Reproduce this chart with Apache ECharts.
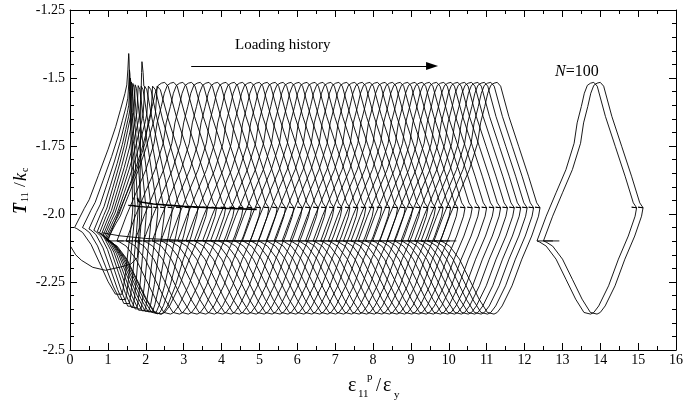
<!DOCTYPE html>
<html><head><meta charset="utf-8">
<script src="https://cdn.jsdelivr.net/npm/echarts@6/dist/echarts.min.js"></script>
<style>html,body{margin:0;padding:0;background:#fff}#c{width:686px;height:408px}</style>
</head><body><div id="c"></div>
<script>
// ---------- data ----------
const xTickLabels = ['0','1','2','3','4','5','6','7','8','9','10','11','12','13','14','15','16'];
const yTickLabels = ['-2.5','-2.25','-2.0','-1.75','-1.5','-1.25'];

// shape of one stabilised loop (x relative to its left vertex, y absolute)
const loopDx = [0.42,0,0.243,0.503,0.764,0.98,1.06,1.17,1.25,1.33,1.415,1.50,1.59,1.806,2.066,2.326,2.543,2.63,2.50,2.63,2.59,2.41,2.15,1.89,1.63,1.50,1.415,1.24,1.02,0.764,0.503,0.243,0.07,0];
const loopY  = [-2.099,-2.099,-2.008,-1.922,-1.837,-1.74,-1.665,-1.605,-1.556,-1.527,-1.519,-1.516,-1.53,-1.641,-1.751,-1.861,-1.959,-1.977,-1.975,-1.977,-2.008,-2.081,-2.166,-2.264,-2.338,-2.362,-2.368,-2.362,-2.313,-2.24,-2.166,-2.118,-2.103,-2.099];

// left-vertex positions of the drawn stabilised cycles
const steadyShift = [1.00,1.24,1.48,1.71,1.94,2.17,2.40,2.62,2.84,3.06,3.28,3.50,3.71,3.92,4.13,4.34,4.55,4.76,4.97,5.18,5.39,5.60,5.81,6.02,6.22,6.42,6.62,6.82,7.02,7.22,7.42,7.61,7.80,7.99,8.18,8.37,8.56,8.74,8.92,9.10,9.27,9.44,9.61,9.78];
const finalShift = [12.33,12.50];   // cycles 99 and 100

// early cycles: vertices (left, top, right, bottom)
const earlyLx = [0.12,0.33,0.50,0.63,0.72,0.78,0.83,0.87,0.90,0.93,0.95,0.97];
const earlyLy = [-2.05,-2.05,-2.055,-2.06,-2.065,-2.07,-2.075,-2.08,-2.085,-2.09,-2.095,-2.098];
const earlyTx = [1.55,1.57,1.59,1.62,1.66,1.72,1.80,1.88,1.97,2.07,2.18,2.30];
const earlyTy = [-1.41,-1.47,-1.50,-1.515,-1.52,-1.525,-1.528,-1.53,-1.53,-1.53,-1.53,-1.53];
const earlyRx = [1.66,1.72,1.80,1.90,2.02,2.16,2.32,2.50,2.70,2.92,3.15,3.38];
const earlyRy = [-1.97,-1.97,-1.972,-1.974,-1.975,-1.976,-1.977,-1.977,-1.977,-1.977,-1.977,-1.977];
const earlyBx = [1.35,1.45,1.55,1.65,1.75,1.85,1.95,2.05,2.14,2.23,2.32,2.40];
const earlyBy = [-2.30,-2.32,-2.335,-2.345,-2.35,-2.355,-2.36,-2.362,-2.364,-2.366,-2.367,-2.368];
// branch shapes of the early cycles (fraction of the way between vertices)
const loadU   = [0,0.18,0.27,0.44,0.62,0.76,0.85,0.93,0.965,0.985,1];
const loadV   = [0,0.11,0.16,0.30,0.45,0.58,0.68,0.77,0.82,0.91,1];
const unloadU = [0,0.08,0.27,0.50,0.73,0.92,1];
const unloadV = [0,0.03,0.27,0.51,0.75,0.96,1];
const dropU   = [0,0.033,0.181,0.395,0.609,0.823,0.93,1];
const dropV   = [0,0.079,0.266,0.483,0.734,0.923,0.985,1];
const backU   = [0,0.124,0.279,0.46,0.645,0.828,0.951,1];
const backV   = [0,0.022,0.204,0.476,0.751,0.929,0.985,1];

// first monotonic loading path and the transition curves
const initialX = [0.02,0.15,0.30,0.60,0.94,1.33,1.60,1.78,1.83,1.85,1.86,1.87,1.89,1.90,1.93,1.95];
const initialY = [-2.12,-2.15,-2.17,-2.196,-2.207,-2.195,-2.185,-2.16,-2.05,-1.90,-1.75,-1.60,-1.48,-1.44,-1.48,-1.53];
const transX = [0.85,1.3,2.0,3.0,4.9];
const transY = [-2.069,-2.08,-2.09,-2.097,-2.1];
const upperX = [1.78,1.82,2.2,3.0,4.0,4.93];
const upperY = [-1.94,-1.955,-1.963,-1.972,-1.979,-1.983];

const arrowX = [3.2, 9.56];
const arrowY = -1.456;

// ---------- build series ----------
const FONT = "'Liberation Serif','Times New Roman',serif";
function lineSeries(pts, w){
  return {type:'line', data:pts, showSymbol:false, symbol:'none', silent:true, animation:false,
    lineStyle:{color:'#000', width:w||0.9}, xAxisIndex:0, yAxisIndex:0, clip:true};
}
function shiftedLoop(s){
  return loopDx.map((d,i)=>[s+d, loopY[i]]);
}
function branch(pts, x0,y0,x1,y1,U,V){
  for(let i=1;i<U.length;i++) pts.push([x0+(x1-x0)*U[i], y0+(y1-y0)*V[i]]);
}
function earlyLoop(k){
  const L=[earlyLx[k],earlyLy[k]], T=[earlyTx[k],earlyTy[k]], R=[earlyRx[k],earlyRy[k]], B=[earlyBx[k],earlyBy[k]];
  const pts=[L.slice()];
  branch(pts,L[0],L[1],T[0],T[1],loadU,loadV);
  branch(pts,T[0],T[1],R[0],R[1],unloadU,unloadV);
  pts.push([R[0]-0.12,R[1]+0.002]); pts.push(R.slice());
  branch(pts,R[0],R[1],B[0],B[1],dropU,dropV);
  branch(pts,B[0],B[1],L[0],L[1],backU,backV);
  return pts;
}
const series=[];
series.push(lineSeries(initialX.map((x,i)=>[x,initialY[i]])));
series.push(lineSeries(transX.map((x,i)=>[x,transY[i]])));
series.push(lineSeries(upperX.map((x,i)=>[x,upperY[i]]), 1.6));
earlyLx.forEach((_,k)=>series.push(lineSeries(earlyLoop(k))));
steadyShift.forEach(s=>series.push(lineSeries(shiftedLoop(s))));
finalShift.forEach(s=>series.push(lineSeries(shiftedLoop(s))));
// arrow "Loading history"
series.push({type:'line', data:[], silent:true, animation:false,
  markLine:{silent:true, animation:false, symbol:['none','triangle'], symbolSize:[8,12], label:{show:false},
    lineStyle:{color:'#000', width:1, type:'solid'},
    data:[[{coord:[arrowX[0],arrowY]},{coord:[arrowX[1],arrowY]}]]}});

const axisCommon = {
  min:0, max:16, interval:1, type:'value',
  axisLine:{show:true, onZero:false, lineStyle:{color:'#000', width:1}},
  axisTick:{show:true, inside:true, length:7, lineStyle:{color:'#000'}},
  minorTick:{show:true, splitNumber:2, length:4, lineStyle:{color:'#000'}},
  splitLine:{show:false}
};
const yCommon = {
  min:-2.5, max:-1.25, interval:0.25, type:'value',
  axisLine:{show:true, onZero:false, lineStyle:{color:'#000', width:1}},
  axisTick:{show:true, inside:true, length:7, lineStyle:{color:'#000'}},
  minorTick:{show:true, splitNumber:5, length:4, lineStyle:{color:'#000'}},
  splitLine:{show:false}
};

const option = {
  animation:false,
  backgroundColor:'#fff',
  grid:{left:70, right:2, top:10, bottom:58, containLabel:false},
  xAxis:[
    Object.assign({}, axisCommon, {position:'bottom',
      axisLabel:{show:true, margin:3, color:'#000', fontSize:14, fontFamily:FONT,
        formatter:v=>xTickLabels[Math.round(v)]}}),
    Object.assign({}, axisCommon, {position:'top', axisLabel:{show:false}})
  ],
  yAxis:[
    Object.assign({}, yCommon, {position:'left',
      axisLabel:{show:true, margin:5, color:'#000', fontSize:14, fontFamily:FONT,
        formatter:v=>yTickLabels[Math.round((v+2.5)/0.25)]}}),
    Object.assign({}, yCommon, {position:'right', axisLabel:{show:false}})
  ],
  series:series,
  graphic:[
    {type:'text', left:235, top:38, style:{text:'Loading history', fill:'#000', font:'15px '+FONT}},
    {type:'text', left:555, top:64, style:{text:'{i|N}=100', fill:'#000', font:'16px '+FONT,
      rich:{i:{fontStyle:'italic', fontSize:16, fontFamily:FONT}}}},
    // x axis title
    {type:'group', left:348, top:372, children:[
      {type:'text', x:0, y:4, style:{text:'ε', fill:'#000', font:'20px '+FONT}},
      {type:'text', x:10, y:17, style:{text:'11', fill:'#000', font:'11px '+FONT}},
      {type:'text', x:19, y:0, style:{text:'p', fill:'#000', font:'11px '+FONT}},
      {type:'text', x:28, y:5, style:{text:'/', fill:'#000', font:'18px '+FONT}},
      {type:'text', x:35, y:4, style:{text:'ε', fill:'#000', font:'20px '+FONT}},
      {type:'text', x:46, y:18, style:{text:'y', fill:'#000', font:'11px '+FONT}}
    ]},
    // y axis title (rotated)
    {type:'group', x:12, y:214, rotation:Math.PI/2, children:[
      {type:'text', x:0, y:0, style:{text:'T', fill:'#000', font:'italic bold 18px '+FONT}},
      {type:'text', x:12, y:8, style:{text:'11', fill:'#000', font:'10px '+FONT}},
      {type:'text', x:27, y:0, style:{text:'/', fill:'#000', font:'17px '+FONT}},
      {type:'text', x:33, y:0, style:{text:'k', fill:'#000', font:'italic 18px '+FONT}},
      {type:'text', x:42, y:8, style:{text:'c', fill:'#000', font:'10px '+FONT}}
    ]}
  ]
};
const chart = echarts.init(document.getElementById('c'), null, {renderer:'canvas'});
chart.setOption(option);
</script></body></html>
